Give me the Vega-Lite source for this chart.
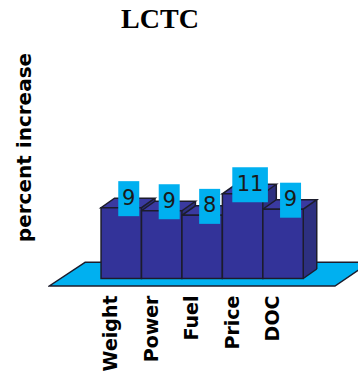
{
  "$schema": "https://vega.github.io/schema/vega-lite/v6.json",
  "width": 310,
  "height": 251,
  "autosize": {"type": "none"},
  "padding": {"left": 48, "top": 37, "right": 0, "bottom": 90},
  "background": "white",
  "view": {"stroke": null},
  "title": {
    "text": "LCTC",
    "font": "Liberation Serif",
    "fontSize": 28,
    "fontWeight": "bold",
    "color": "black",
    "anchor": "middle",
    "frame": "group",
    "dx": -43,
    "offset": 3
  },
  "datasets": {
    "bars": [
      {"cat": "Weight", "c": 1, "v": 9.2},
      {"cat": "Power", "c": 2, "v": 8.8},
      {"cat": "Fuel", "c": 3, "v": 8.2},
      {"cat": "Price", "c": 4, "v": 11.0},
      {"cat": "DOC", "c": 5, "v": 9.0}
    ],
    "floor": [
      {"fy": 2.1, "fx": 0.104, "fx2": 7.15},
      {"fy": -0.974, "fx": -0.779, "fx2": 6.284}
    ]
  },
  "encoding": {
    "x": {
      "field": "c",
      "type": "quantitative",
      "scale": {"domain": [-0.811, 6.853], "nice": false, "zero": false},
      "axis": {
        "values": [1, 2, 3, 4, 5],
        "labelExpr": "['', 'Weight', 'Power', 'Fuel', 'Price', 'DOC'][datum.value]",
        "title": null,
        "domain": false,
        "ticks": false,
        "grid": false,
        "labelAngle": 270,
        "labelPadding": 7,
        "labelOffset": -10.5,
        "labelFont": "DejaVu Sans",
        "labelFontSize": 19,
        "labelFontWeight": "bold",
        "labelColor": "black",
        "labelOverlap": false,
        "labelBound": false,
        "labelFlush": false
      }
    },
    "y": {
      "field": "v",
      "type": "quantitative",
      "scale": {"domain": [-1.234, 31.364], "nice": false, "zero": false},
      "axis": {
        "title": "percent increase",
        "labels": false,
        "ticks": false,
        "domain": false,
        "grid": false,
        "titleFont": "DejaVu Sans",
        "titleFontSize": 20,
        "titleFontWeight": "bold",
        "titleColor": "black",
        "titleAngle": 270,
        "titleAlign": "center",
        "titleBaseline": "middle",
        "titleX": -24,
        "titleY": 110
      }
    }
  },
  "layer": [
    {
      "data": {"name": "floor"},
      "mark": {"type": "area", "orient": "horizontal", "fill": "#00b0f0", "stroke": "#1c1c2c", "strokeWidth": 1.5, "clip": true},
      "encoding": {
        "y": {"field": "fy", "type": "quantitative"},
        "x": {"field": "fx", "type": "quantitative"},
        "x2": {"field": "fx2"}
      }
    },
    {
      "data": {"name": "bars"},
      "mark": {"type": "rect", "fill": "#2d3080", "strokeWidth": 0, "xOffset": 20.2, "x2Offset": 33.7, "y2Offset": -9.5},
      "encoding": {
        "x2": {"field": "c"},
        "y2": {"datum": 0}
      }
    },
    {
      "data": {"name": "bars"},
      "mark": {"type": "point", "filled": true, "opacity": 1, "size": 400, "fill": "#2d3080", "strokeWidth": 0,
        "shape": "M2.02,0L3.37,-0.95L3.37,0.6L2.02,0.6Z"}
    },
    {
      "data": {"name": "bars"},
      "mark": {"type": "point", "filled": true, "opacity": 1, "size": 400, "fill": "#2d3080", "strokeWidth": 0,
        "shape": "M2.02,0L3.37,-0.95L3.37,-1.5L2.02,-1.5Z"},
      "encoding": {
        "y": {"datum": 0}
      }
    },
    {
      "data": {"name": "bars"},
      "mark": {"type": "rule", "color": "#1c1c2c", "strokeWidth": 1.5, "xOffset": 33.7, "yOffset": -9.5, "y2Offset": -9.5},
      "encoding": {
        "y2": {"datum": 0}
      }
    },
    {
      "data": {"name": "bars"},
      "mark": {"type": "rule", "color": "#1c1c2c", "strokeWidth": 1.5, "xOffset": 20.2, "x2Offset": 33.7, "y2Offset": -9.5},
      "encoding": {
        "y": {"datum": 0},
        "x2": {"field": "c"},
        "y2": {"datum": 0}
      }
    },
    {
      "data": {"name": "bars"},
      "mark": {"type": "point", "filled": true, "opacity": 1, "size": 400, "fill": "#3a3aa0", "stroke": "#1c1c2c", "strokeWidth": 1.5,
        "shape": "M-2.02,0L2.02,0L3.37,-0.95L-0.67,-0.95Z"}
    },
    {
      "data": {"name": "bars"},
      "mark": {"type": "rect", "fill": "#333399", "stroke": "#1c1c2c", "strokeWidth": 1.5, "xOffset": -20.2, "x2Offset": 20.2},
      "encoding": {
        "x2": {"field": "c"},
        "y2": {"datum": 0}
      }
    },
    {
      "data": {"name": "bars"},
      "mark": {"type": "point", "filled": true, "opacity": 1, "size": 400, "fill": "#00b0f0", "strokeWidth": 0, "xOffset": 7.5, "yOffset": -9},
      "encoding": {
        "shape": {
          "condition": {"test": "datum.v >= 9.5", "value": "M-1.78,-1.75L1.78,-1.75L1.78,1.75L-1.78,1.75Z"},
          "value": "M-1.05,-1.75L1.05,-1.75L1.05,1.75L-1.05,1.75Z"
        }
      }
    },
    {
      "data": {"name": "bars"},
      "mark": {"type": "text", "font": "DejaVu Sans", "fontSize": 21, "color": "#1a1a1a", "align": "center", "baseline": "middle", "xOffset": 7.5, "yOffset": -9},
      "encoding": {
        "text": {"field": "v", "type": "quantitative", "format": ".0f"}
      }
    }
  ]
}
